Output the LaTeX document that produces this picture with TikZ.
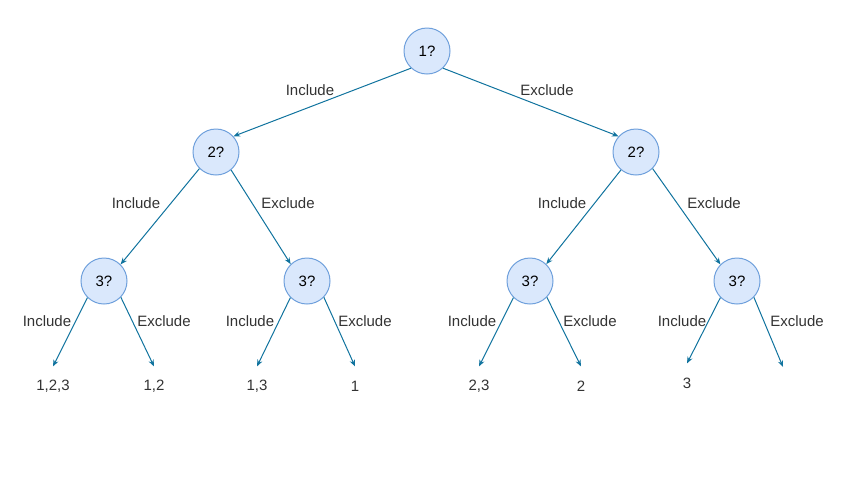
\documentclass[tikz,border=0pt]{standalone}
\usepackage{fontspec}
\setmainfont{Liberation Sans}
\usetikzlibrary{arrows.meta}
\definecolor{qfill}{HTML}{DAE8FC}
\definecolor{qline}{HTML}{6FA0DC}
\definecolor{edgeblue}{HTML}{10739E}
\definecolor{txt}{HTML}{333333}
\begin{document}
\begin{tikzpicture}[x=0.75pt, y=-0.75pt,
    every node/.style={font=\fontsize{11.25}{13.5}\selectfont, text=txt},
    question/.style={draw=qline, fill=qfill, circle, line width=0.75pt, minimum size=34.5pt, inner sep=0pt, text=black},
    leaf/.style={inner sep=0pt, minimum height=29pt, anchor=center},
    branch/.style={draw=edgeblue, line width=0.75pt, -{Stealth[length=5pt, width=4pt]}}]
                \useasboundingbox (0,0) rectangle (853,480);
                \node[question] (q1) at (427, 51) {1?};
                \node[question] (q2a) at (216, 152) {2?};
                \node[question] (q2b) at (636, 152) {2?};
                \node[question] (q3a) at (104, 281) {3?};
                \node[question] (q3b) at (307, 281) {3?};
                \node[question] (q3c) at (530, 281) {3?};
                \node[question] (q3d) at (737, 281) {3?};
                % leaves
                \node[leaf] (s123) at (53, 386) {1,2,3};
                \node[leaf] (s12) at (154, 386) {1,2};
                \node[leaf] (s13) at (257, 386) {1,3};
                \node[leaf] (s1) at (355, 386) {1};
                \node[leaf] (s23) at (479, 386) {2,3};
                \node[leaf] (s2) at (581, 386) {2};
                \node[leaf] (s3) at (687, 383) {3};
                \coordinate (s0) at (783, 367);
                % edges
                \draw[branch] (q1.227) -- (q2a.42);
                \draw[branch] (q1.313) -- (q2b.138);
                \draw[branch] (q2a.225) -- (q3a.45);
                \draw[branch] (q2a.310) -- (q3b.134);
                \draw[branch] (q2b.230) -- (q3c.46);
                \draw[branch] (q2b.315) -- (q3d.135);
                \draw[branch] (q3a.225) -- (s123.north);
                \draw[branch] (q3a.316) -- (s12.north);
                \draw[branch] (q3b.225) -- (s13.north);
                \draw[branch] (q3b.316) -- (s1.north);
                \draw[branch] (q3c.225) -- (s23.north);
                \draw[branch] (q3c.316) -- (s2.north);
                \draw[branch] (q3d.225) -- (s3.north);
                \draw[branch] (q3d.316) -- (s0);
                % labels
                \node (in1) at (310, 90) {Include};
                \node (ex1) at (547, 90) {Exclude};
                \node (in2a) at (136, 203) {Include};
                \node (ex2a) at (288, 203) {Exclude};
                \node (in2b) at (562, 203) {Include};
                \node (ex2b) at (714, 203) {Exclude};
                \node (in3a) at (47, 321) {Include};
                \node (ex3a) at (164, 321) {Exclude};
                \node (in3b) at (250, 321) {Include};
                \node (ex3b) at (365, 321) {Exclude};
                \node (in3c) at (472, 321) {Include};
                \node (ex3c) at (590, 321) {Exclude};
                \node (in3d) at (682, 321) {Include};
                \node (ex3d) at (797, 321) {Exclude};
            \end{tikzpicture}
\end{document}
